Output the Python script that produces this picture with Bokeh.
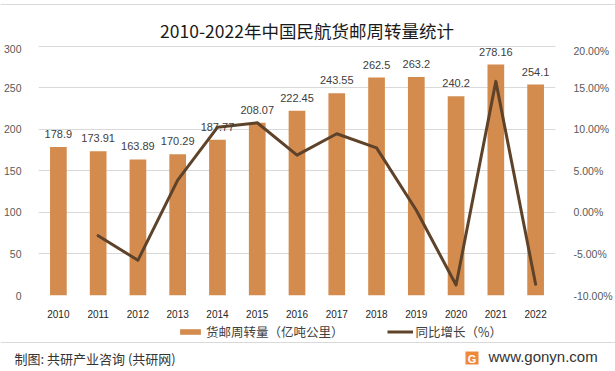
from bokeh.plotting import figure
from bokeh.models import (ColumnDataSource, FactorRange, Range1d, LinearAxis, FixedTicker,
                          PrintfTickFormatter, LabelSet, Legend, LegendItem, Span)
from bokeh.core.properties import value
from bokeh.embed import file_html
from bokeh.resources import INLINE

years = ["2010", "2011", "2012", "2013", "2014", "2015", "2016",
         "2017", "2018", "2019", "2020", "2021", "2022"]
volume = [178.9, 173.91, 163.89, 170.29, 187.77, 208.07, 222.45,
          243.55, 262.5, 263.2, 240.2, 278.16, 254.1]
growth = [None, -2.79, -5.76, 3.90, 10.26, 10.81, 6.91,
          9.49, 7.78, 0.27, -8.74, 15.80, -8.65]
left_ticks = [0, 50, 100, 150, 200, 250, 300]
right_ticks = [-10, -5, 0, 5, 10, 15, 20]

title_text = "2010-2022年中国民航货邮周转量统计"
bar_name = "货邮周转量（亿吨公里）"
line_name = "同比增长（%）"
source_text = "制图: 共研产业咨询 (共研网)"
site_text = "www.gonyn.com"

BAR = "#D38C4E"
LINE = "#5E4229"
GRID = "#D9D9D9"
TICK = "#595959"
CJK = "Noto Sans CJK SC"
LAT = "Liberation Sans"

W = 615


def strip(h, x_range):
    f = figure(width=W, height=h, x_range=x_range, y_range=Range1d(h, 0),
               output_backend="svg", toolbar_location=None,
               min_border=0, min_border_left=0, min_border_right=0,
               min_border_top=0, min_border_bottom=0)
    f.axis.visible = False
    f.grid.visible = False
    f.outline_line_color = None
    f.background_fill_color = "white"
    f.border_fill_color = "white"
    return f


src = ColumnDataSource(dict(
    year=years, vol=volume,
    pct=[float("nan") if g is None else g for g in growth],
    lab=[str(v) for v in volume],
))

# ---------------- title strip (page y 0..44) ----------------
pt = strip(44, Range1d(0, W))
pt.text(x=[306.5], y=[30], text=[title_text], text_align="center", text_baseline="middle",
        text_font=value(CJK), text_font_size="17.5px", text_color="#1a1a1a")
pt.add_layout(Span(location=4, dimension="width", line_color=GRID, line_width=1))

# ---------------- main chart (page y 44..320) ----------------
p = figure(width=W, height=276, x_range=FactorRange(*years), y_range=Range1d(0, 302.4),
           output_backend="svg", toolbar_location=None,
           min_border_left=37, min_border_right=58, min_border_top=0, min_border_bottom=24)
p.outline_line_color = None
p.background_fill_color = "white"
p.border_fill_color = "white"
p.extra_y_ranges = {"pct": Range1d(-10, 20.24)}

bars = p.vbar(x="year", top="vol", width=0.42, source=src, color=BAR, line_color=None)
ln = p.line(x="year", y="pct", source=src, y_range_name="pct", line_color=LINE,
            line_width=3, line_join="round", line_cap="round")

p.xaxis.axis_line_color = None
p.xaxis.major_tick_line_color = None
p.xaxis.minor_tick_line_color = None
p.xaxis.major_label_standoff = 8
p.xaxis.major_label_text_font = LAT
p.xaxis.major_label_text_font_size = "10px"
p.xaxis.major_label_text_color = "#262626"

p.yaxis.ticker = FixedTicker(ticks=left_ticks)
p.yaxis.axis_line_color = None
p.yaxis.major_tick_line_color = None
p.yaxis.minor_tick_line_color = None
p.yaxis.major_label_standoff = 11
p.yaxis.major_label_text_font = LAT
p.yaxis.major_label_text_font_size = "10.5px"
p.yaxis.major_label_text_color = TICK

ra = LinearAxis(y_range_name="pct", ticker=FixedTicker(ticks=right_ticks),
                formatter=PrintfTickFormatter(format="%.2f%%"))
ra.axis_line_color = None
ra.major_tick_line_color = None
ra.minor_tick_line_color = None
ra.major_label_standoff = 12
ra.major_label_text_font = LAT
ra.major_label_text_font_size = "10.5px"
ra.major_label_text_color = TICK
p.add_layout(ra, "right")

p.xgrid.grid_line_color = None
p.ygrid.ticker = FixedTicker(ticks=left_ticks)
p.ygrid.grid_line_color = GRID
p.ygrid.grid_line_width = 1

labels = LabelSet(x="year", y="vol", text="lab", source=src, y_offset=13,
                  text_align="center", text_baseline="middle",
                  text_font=value(LAT), text_font_size="11px", text_color="#404040")
p.add_layout(labels)

# ---------------- footer: legend + source (page y 320..371) ----------------
pf = strip(51, FactorRange(*years))
U = len(years) / W          # synthetic category units per pixel in this strip
pf.extra_y_ranges = {"off": Range1d(1000, 2000)}
# legend proxies: same series on a y range that keeps them out of view
lb = pf.vbar(x="year", top="vol", width=0.42, source=src, color=BAR, line_color=None,
             y_range_name="off")
ll = pf.line(x="year", y="pct", source=src, line_color=LINE, line_width=3,
             y_range_name="off")
leg = Legend(items=[LegendItem(label=bar_name, renderers=[lb]),
                    LegendItem(label=line_name, renderers=[ll])],
             orientation="horizontal", location=(177, 30))
leg.padding = 0
leg.margin = 0
leg.spacing = 43
leg.glyph_width = 26
leg.glyph_height = 7
leg.label_height = 20
leg.label_standoff = 3
leg.label_text_font = CJK
leg.label_text_font_size = "12.5px"
leg.label_text_color = "#404040"
leg.border_line_color = None
leg.background_fill_alpha = 0
pf.add_layout(leg)

pf.add_layout(Span(location=22, dimension="width", line_color=GRID, line_width=1))
pf.text(x=[14 * U], y=[38], text=[source_text], text_align="left", text_baseline="middle",
        text_font=value(CJK), text_font_size="13px", text_color="#333333")
pf.rect(x=[471.5 * U], y=[37.5], width=13, height=13, width_units="screen",
        height_units="screen", fill_color="#F0883A", line_color=None)
pf.text(x=[471.5 * U], y=[38], text=["G"], text_align="center", text_baseline="middle",
        text_font=value(LAT), text_font_size="11px", text_font_style="bold", text_color="white")
pf.text(x=[488 * U], y=[36], text=[site_text], text_align="left", text_baseline="middle",
        text_font=value(LAT), text_font_size="15px", text_color="#333333")

open("out.html", "w").write(file_html([pt, p, pf], INLINE))
